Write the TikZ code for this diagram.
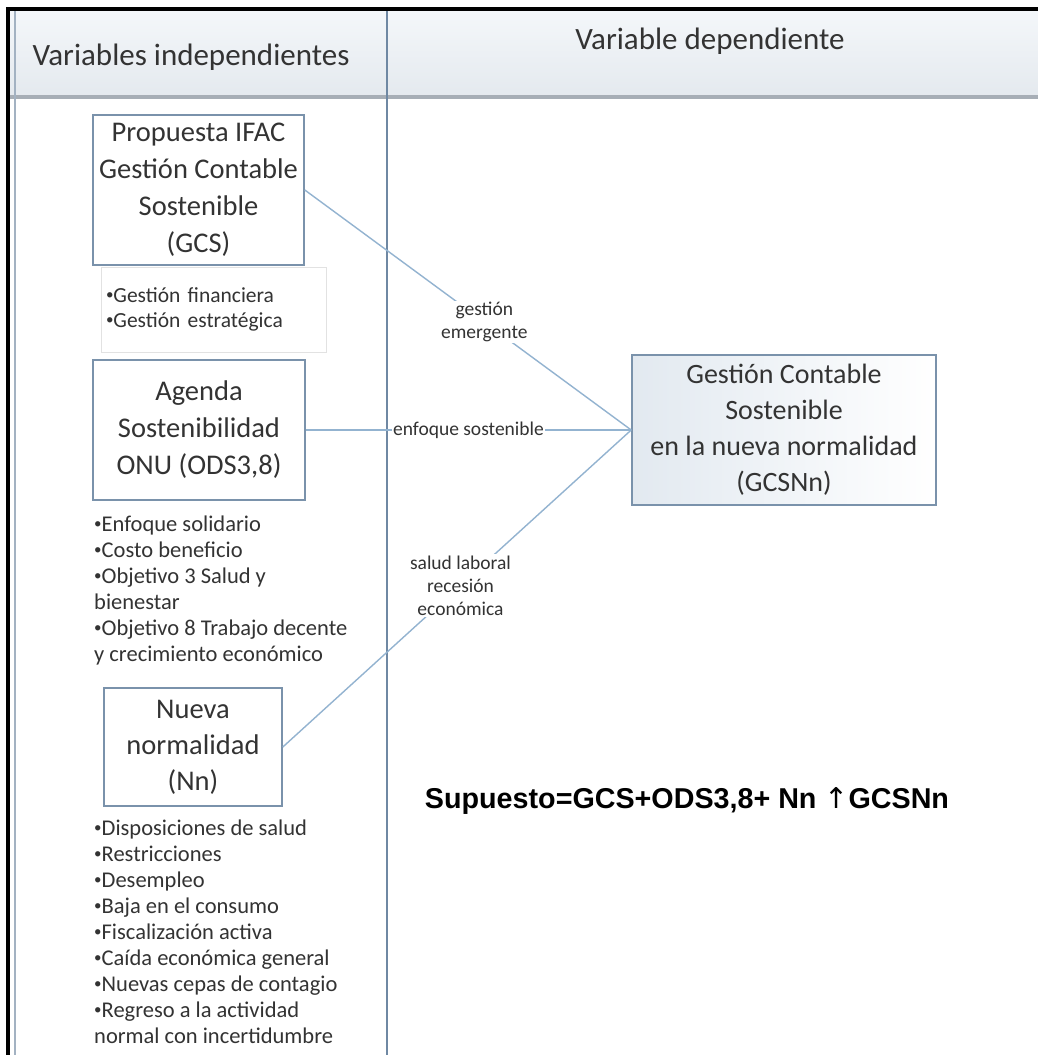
\documentclass[tikz,border=0pt]{standalone}
\usepackage{fontspec}
\setmainfont{Carlito}
\newfontfamily\formulafont{Liberation Sans}
\newfontfamily\arrowfont{DejaVu Sans}
\definecolor{boxline}{HTML}{7A92AB}
\definecolor{conncol}{HTML}{93B3D0}
\definecolor{divcol}{HTML}{6F88A3}
\definecolor{leftcol}{HTML}{A3B2C2}
\definecolor{hdrline}{HTML}{A7AEB6}
\definecolor{hdrtop}{HTML}{F4F7FA}
\definecolor{hdrbot}{HTML}{E4E9EE}
\definecolor{txt}{HTML}{333333}
\definecolor{subline}{HTML}{E2E2E2}
\definecolor{tgtleft}{HTML}{E2E9F0}
\newcommand\bul{\raisebox{.3ex}{\fontsize{15}{15}\selectfont •}}
\tikzset{
  varbox/.style={draw=boxline, line width=1.6pt, fill=white, align=center,
    text=txt, inner sep=0pt, font=\fontsize{28.5}{37}\selectfont},
  subbox/.style={draw=subline, line width=0.8pt, fill=white, align=left,
    text=txt, inner xsep=5pt, inner ysep=0pt, font=\fontsize{21.5}{25}\selectfont},
  listtext/.style={align=left, text=txt, inner sep=0pt, font=\fontsize{22.5}{26}\selectfont},
  conn/.style={draw=conncol, line width=1.4pt},
  lbl/.style={fill=white, align=center, text=txt, inner sep=1.5pt, font=\fontsize{19.5}{23}\selectfont},
  hdr/.style={text=txt, inner sep=0pt, font=\fontsize{31}{34}\selectfont},
}
\begin{document}
\begin{tikzpicture}[x=1pt,y=-1pt]
\useasboundingbox (0,0) rectangle (1038,1055);
\fill[white] (0,0) rectangle (1038,1055);
% header band
\shade[top color=hdrtop, bottom color=hdrbot] (9,10) rectangle (1038,97);
\draw[hdrline, line width=4pt] (9,97) -- (1038,97);
\draw[leftcol, line width=2pt] (15,10) -- (15,1055);
\draw[divcol, line width=2.5pt] (387,10) -- (387,1055);
\draw[black, line width=4pt] (7.5,1055) -- (7.5,9) -- (1038,9);
\node[hdr] (h1) at (191,57) {Variables independientes};
\node[hdr] (h2) at (710,41) {Variable dependiente};
% boxes
\node[varbox, minimum width=211pt, minimum height=150pt] (gcs) at (198.5,190)
  {Propuesta IFAC\\Gestión Contable\\Sostenible\\(GCS)};
\node[subbox, minimum width=225pt, minimum height=85pt, text width=215pt] (gcsitems) at (213.5,309.5)
  {\bul Gestión financiera\\\bul Gestión estratégica};
\node[varbox, minimum width=212pt, minimum height=140pt] (ods) at (199,430)
  {Agenda\\Sostenibilidad\\ONU (ODS3,8)};
\node[listtext, anchor=north west] (odsitems) at (94,516)
  {\bul Enfoque solidario\\\bul Costo beneficio\\\bul Objetivo 3 Salud y\\bienestar\\\bul Objetivo 8 Trabajo decente\\y crecimiento económico};
\node[varbox, minimum width=178pt, minimum height=118pt, font=\fontsize{28.5}{36}\selectfont] (nn) at (193,747)
  {Nueva\\normalidad\\(Nn)};
\node[listtext, anchor=north west] (nnitems) at (94,820)
  {\bul Disposiciones de salud\\\bul Restricciones\\\bul Desempleo\\\bul Baja en el consumo\\\bul Fiscalización activa\\\bul Caída económica general\\\bul Nuevas cepas de contagio\\\bul Regreso a la actividad\\normal con incertidumbre};
\node[varbox, minimum width=304pt, minimum height=150pt, font=\fontsize{28}{36}\selectfont,
  shade, left color=tgtleft, right color=white] (tgt) at (784,430)
  {Gestión Contable\\Sostenible\\en la nueva normalidad\\(GCSNn)};
% connectors
\draw[conn] (gcs.east) -- node[lbl, pos=0.55] (l1) {gestión\\emergente} (tgt.west);
\draw[conn] (ods.east) -- node[lbl, pos=0.5] (l2) {enfoque sostenible} (tgt.west);
\draw[conn] (nn.east) -- node[lbl, pos=0.51] (l3) {salud laboral\\recesión\\económica} (tgt.west);
% formula
\node[text=black, inner sep=0pt, font=\formulafont\bfseries\fontsize{28.7}{30}\selectfont] (sup) at (687,801)
  {Supuesto=GCS+ODS3,8+ Nn {\arrowfont\mdseries ↑}GCSNn};
\end{tikzpicture}
\end{document}
